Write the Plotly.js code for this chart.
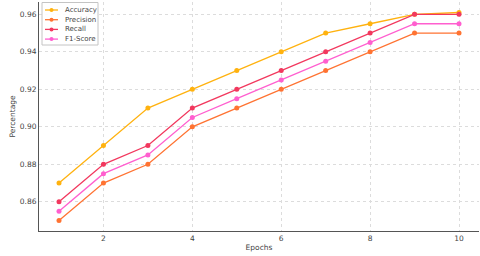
<!DOCTYPE html>
<html>
<head>
<meta charset="utf-8">
<script src="https://cdn.plot.ly/plotly-3.0.1.min.js"></script>
<style>html,body{margin:0;padding:0;background:#fff;}#chart{width:480px;height:256px;}</style>
</head>
<body>
<div id="chart"></div>
<script>
const epochs = [1, 2, 3, 4, 5, 6, 7, 8, 9, 10];
const accuracy = [0.87, 0.89, 0.91, 0.92, 0.93, 0.94, 0.95, 0.955, 0.96, 0.961];
const precision = [0.85, 0.87, 0.88, 0.90, 0.91, 0.92, 0.93, 0.94, 0.95, 0.95];
const recall = [0.86, 0.88, 0.89, 0.91, 0.92, 0.93, 0.94, 0.95, 0.96, 0.96];
const f1 = [0.855, 0.875, 0.885, 0.905, 0.915, 0.925, 0.935, 0.945, 0.955, 0.955];
const seriesNames = ["Accuracy", "Precision", "Recall", "F1-Score"];
const colors = ["#FFB20F", "#FF7332", "#F2385E", "#FF5FCF"];
const yTicks = [0.86, 0.88, 0.90, 0.92, 0.94, 0.96];
const xTicks = [2, 4, 6, 8, 10];

const data = [accuracy, precision, recall, f1].map((v, i) => ({
  x: epochs, y: v, name: seriesNames[i], type: "scatter", mode: "lines+markers",
  line: {color: colors[i], width: 1.3},
  marker: {color: colors[i], size: 5},
  showlegend: false
}));

// Compact legend built from shapes/annotations (paper coordinates from pixel layout)
const W = 480, H = 256, M = {l: 39, r: 1, t: 2, b: 25};
const pw = W - M.l - M.r, ph = H - M.t - M.b;
const px = x => (x - M.l) / pw;
const py = y => (H - M.b - y) / ph;
const shapes = [{type: "rect", xref: "paper", yref: "paper",
  x0: px(42), x1: px(98), y0: py(45), y1: py(2.5),
  line: {color: "#c4c4c4", width: 1}, fillcolor: "rgba(255,255,255,0.9)", layer: "above"}];
const annotations = [];
seriesNames.forEach((n, i) => {
  const yy = 10 + i * 9.7;
  shapes.push({type: "line", xref: "paper", yref: "paper", x0: px(45), x1: px(58), y0: py(yy), y1: py(yy),
    line: {color: colors[i], width: 1.3}, layer: "above"});
  shapes.push({type: "circle", xref: "paper", yref: "paper", x0: px(49.5), x1: px(53.5), y0: py(yy + 2), y1: py(yy - 2),
    line: {width: 0}, fillcolor: colors[i], layer: "above"});
  annotations.push({xref: "paper", yref: "paper", x: px(63), y: py(yy), xanchor: "left", yanchor: "middle",
    text: n, showarrow: false, font: {family: "DejaVu Sans", size: 7, color: "#444"}});
});

const axisFont = {family: "DejaVu Sans", size: 7.5, color: "#444"};
const layout = {
  width: W, height: H,
  margin: M,
  paper_bgcolor: "#fff", plot_bgcolor: "#fff",
  font: axisFont,
  showlegend: false,
  shapes: shapes, annotations: annotations,
  xaxis: {range: [0.55, 10.45], tickvals: xTicks, ticktext: xTicks.map(String),
    showgrid: true, gridcolor: "#dcdcdc", griddash: "dot", gridwidth: 1,
    showline: true, linecolor: "#555", linewidth: 1, zeroline: false,
    ticks: "", tickfont: axisFont,
    title: {text: "Epochs", font: axisFont, standoff: 2}},
  yaxis: {range: [0.8444, 0.9666], tickvals: yTicks, ticktext: yTicks.map(v => v.toFixed(2)),
    showgrid: true, gridcolor: "#dcdcdc", griddash: "dot", gridwidth: 1,
    showline: true, linecolor: "#555", linewidth: 1, zeroline: false,
    ticks: "", tickfont: axisFont,
    title: {text: "Percentage", font: axisFont, standoff: 3}}
};
Plotly.newPlot("chart", data, layout, {displayModeBar: false, staticPlot: true});
</script>
</body>
</html>
